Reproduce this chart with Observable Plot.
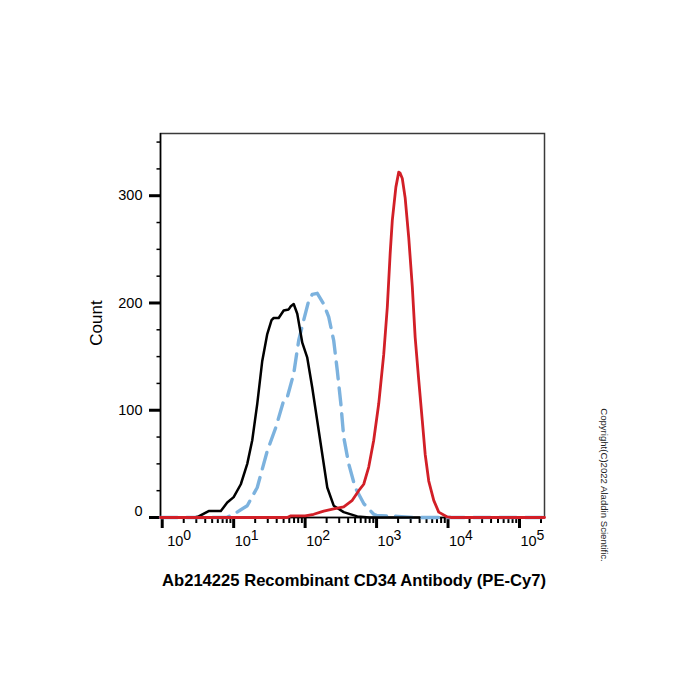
<!DOCTYPE html>
<html><head><meta charset="utf-8">
<script src="https://cdn.jsdelivr.net/npm/d3@7"></script>
<script src="https://cdn.jsdelivr.net/npm/@observablehq/plot@0.6"></script>
<style>body{margin:0;background:#fff;} #chart{width:700px;height:700px;}</style>
</head><body><div id="chart"></div>
<script>
// Intensity positions are stored as log10 exponents.
const blackLog   = [0.45,0.51,0.65,0.82,0.91,1.00,1.10,1.19,1.26,1.33,1.40,1.47,1.53,1.56,1.63,1.70,1.77,1.80,1.84,1.89,1.96,2.03,2.10,2.17,2.24,2.31,2.40,2.54,2.73,2.90,3.60];
const blackCount = [0,1,6,6,14,19,31,50,72,106,146,171,184,186,186,193,194,197,199,190,163,149,121,90,59,28,11,5,1,0,0];

const blueLog   = [-0.024,0.90,1.00,1.19,1.33,1.47,1.59,1.70,1.75,1.84,1.91,1.98,2.05,2.10,2.17,2.26,2.33,2.40,2.45,2.50,2.54,2.61,2.70,2.82,2.96,3.00,3.30,3.50,5.35];
const blueCount = [0,0,3,11,28,62,84,109,112,134,165,184,202,208,209,199,187,165,137,106,75,50,28,13,3,2,1,0,0];

const redLog   = [-0.024,1.75,1.80,2.00,2.12,2.26,2.40,2.54,2.66,2.75,2.82,2.89,2.96,3.03,3.10,3.15,3.19,3.22,3.27,3.31,3.33,3.36,3.40,3.45,3.50,3.54,3.59,3.64,3.68,3.73,3.80,3.87,3.99,4.05,5.35];
const redCount = [0,0,1.5,1.5,3,6,8,10,16,25,31,47,72,106,152,196,246,277,308,322,321,316,298,261,215,168,128,90,59,34,16,5,0.5,0,0];

const xTickExponents = [0,1,2,3,4,5];
const yMajorTicks = [0,100,200,300];
const yMinorTicks = [25,50,75,125,150,175,225,250,275,325,350];

const xTitle = "Ab214225 Recombinant CD34 Antibody (PE-Cy7)";
const yTitle = "Count";
const copyright = "Copyright(C)2022 Aladdin Scientific.";

const xMin = Math.pow(10, -0.024), xMax = Math.pow(10, 5.35);
const toRows = (L, C) => L.map((l, i) => ({x: Math.pow(10, l), y: C[i]}));
const black = toRows(blackLog, blackCount);
const blue = toRows(blueLog, blueCount);
const red = toRows(redLog, redCount);

const xMajor = xTickExponents.map(e => Math.pow(10, e));
const xMinor = [];
for (const e of xTickExponents) for (let k = 2; k <= 9; k++) { const v = k * Math.pow(10, e); if (v <= xMax) xMinor.push(v); }

const font = "'Liberation Sans', Arial, sans-serif";
const baseLabel = (data, dx) => Plot.text(data, {x: d => Math.pow(10, d), y: () => 0, text: () => "10", textAnchor: "start", dx, dy: 24, fontSize: 14.5});
const expLabel = (data, dx) => Plot.text(data, {x: d => Math.pow(10, d), y: () => 0, text: d => String(d), textAnchor: "start", dx, dy: 18, fontSize: 14});

const chart = Plot.plot({
  width: 700, height: 700,
  marginLeft: 160, marginRight: 156, marginTop: 133, marginBottom: 183,
  x: {type: "log", domain: [xMin, xMax]},
  y: {domain: [0, 358]},
  style: {fontFamily: font, background: "white", color: "black"},
  marks: [
    Plot.frame({stroke: "#3a3a3a", strokeWidth: 1.5}),
    Plot.axisX({ticks: xMinor, tickSize: 6, strokeWidth: 2, tickFormat: () => "", label: null}),
    Plot.axisX({ticks: xMajor, tickSize: 11, strokeWidth: 3, tickFormat: () => "", label: null}),
    Plot.axisY({ticks: yMinorTicks, tickSize: 3.5, strokeWidth: 1.5, tickFormat: () => "", label: null}),
    Plot.axisY({ticks: yMajorTicks, tickSize: 11, strokeWidth: 3, tickFormat: () => "", label: null}),
    Plot.ruleX([xMin], {stroke: "black", strokeWidth: 1.5}),
    Plot.ruleY([0], {stroke: "black", strokeWidth: 1.5}),
    Plot.text(yMajorTicks.filter(d => d !== 0), {x: () => xMin, y: d => d, text: d => String(d), textAnchor: "end", dx: -18, fontSize: 14.5}),
    Plot.text([0], {x: () => xMin, y: d => d, text: d => String(d), textAnchor: "end", dx: -18, dy: -6, fontSize: 14.5}),
    baseLabel(xTickExponents.filter(d => d === 0), 5),
    baseLabel(xTickExponents.filter(d => d !== 0), 1),
    expLabel(xTickExponents.filter(d => d === 0), 21),
    expLabel(xTickExponents.filter(d => d !== 0), 17),
    Plot.line(blue, {x: "x", y: "y", stroke: "#7cb2de", strokeWidth: 3.4, strokeDasharray: "17,9"}),
    Plot.line(black, {x: "x", y: "y", stroke: "black", strokeWidth: 2.5}),
    Plot.line(red, {x: "x", y: "y", stroke: "#d21f27", strokeWidth: 2.8})
  ]
});

const svg = d3.select(chart);
svg.append("text").attr("x", 354).attr("y", 586).attr("text-anchor", "middle")
  .attr("font-family", font).attr("font-weight", "bold").attr("font-size", 16.6).attr("fill", "black").text(xTitle);
svg.append("text").attr("transform", "translate(101.5,323) rotate(-90)").attr("text-anchor", "middle")
  .attr("font-family", font).attr("font-size", 17).attr("fill", "black").text(yTitle);
svg.append("text").attr("transform", "translate(601,485) rotate(90)").attr("text-anchor", "middle")
  .attr("font-family", font).attr("font-size", 9.6).attr("fill", "#222").text(copyright);

document.getElementById("chart").appendChild(chart);
</script>
</body></html>
